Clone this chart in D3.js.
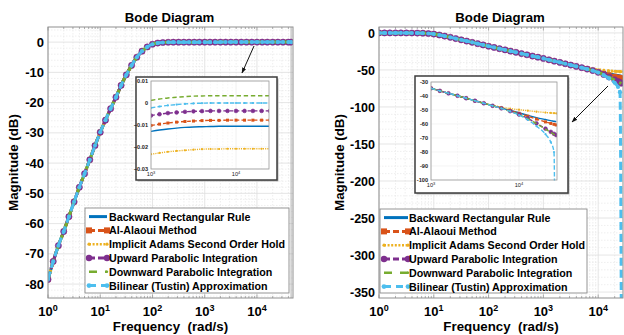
<!DOCTYPE html>
<html>
<head>
<meta charset="utf-8">
<script src="https://cdn.jsdelivr.net/npm/d3@7"></script>
<style>
  body { margin: 0; background: #fff; }
  svg { display: block; }
  text { font-family: "Liberation Sans", Arial, sans-serif; fill: #000; }
</style>
</head>
<body>
<svg id="chart" width="624" height="335"></svg>
<script>
// ---------- data ----------
const seriesNames = [
  "Backward Rectangular Rule",
  "Al-Alaoui Method",
  "Implicit Adams Second Order Hold",
  "Upward Parabolic Integration",
  "Downward Parabolic Integration",
  "Bilinear (Tustin) Approximation"
];

// frequency grid (rad/s), shared low band
const freqLow = [1, 1.26, 1.58, 2, 2.51, 3.16, 3.98, 5.01, 6.31, 7.94, 10, 12.6, 15.8, 20, 25.1, 31.6, 39.8, 50.1, 63.1, 79.4, 100, 126, 158, 200, 251, 316, 398, 501, 631, 794];

// left figure: magnitude (dB) common to all methods below 1 kHz
const magLowLeft = [-78.5, -72.5, -67.3, -62.6, -57.7, -52.8, -48.0, -43.5, -38.9, -34.2, -29.8, -25.8, -22.0, -18.2, -14.3, -10.8, -7.7, -5.0, -3.0, -1.6, -0.7, -0.3, -0.12, -0.05, -0.03, -0.02, -0.016, -0.014, -0.013, -0.012];

// left figure: high band, one list per method
const freqHighLeft = [1000, 1260, 1580, 2000, 2510, 3160, 3980, 5010, 6310, 7940, 10000, 12600, 15800, 20000, 25100, 31600, 39800, 45000];
const leftBackward = [-0.0129, -0.0123, -0.0118, -0.0114, -0.0111, -0.0109, -0.0108, -0.0107, -0.0106, -0.0106, -0.0106, -0.0106, -0.0106, -0.0106, -0.0106, -0.0106, -0.0106, -0.0106];
const leftAlAlaoui = [-0.0102, -0.0096, -0.0091, -0.0087, -0.0084, -0.0082, -0.0080, -0.0079, -0.0079, -0.0078, -0.0078, -0.0078, -0.0078, -0.0078, -0.0078, -0.0078, -0.0078, -0.0078];
const leftAdams = [-0.0233, -0.0227, -0.0222, -0.0218, -0.0215, -0.0212, -0.0210, -0.0209, -0.0209, -0.0208, -0.0208, -0.0208, -0.0208, -0.0208, -0.0208, -0.0208, -0.0208, -0.0208];
const leftUpward = [-0.0057, -0.0051, -0.0046, -0.0043, -0.0040, -0.0038, -0.0037, -0.0036, -0.0036, -0.0036, -0.0036, -0.0036, -0.0036, -0.0036, -0.0036, -0.0036, -0.0036, -0.0036];
const leftDownward = [0.0012, 0.0018, 0.0023, 0.0026, 0.0029, 0.0031, 0.0032, 0.0033, 0.0033, 0.0033, 0.0033, 0.0033, 0.0033, 0.0033, 0.0033, 0.0033, 0.0033, 0.0033];
const leftTustin = [-0.0022, -0.0016, -0.0011, -0.0007, -0.0004, -0.0002, -0.0001, 0, 0, 0, 0, 0, 0, 0, 0, 0, 0, 0];

// right figure: magnitude (dB) common to all methods below 1 kHz
const magLowRight = [0, 0, 0, 0, 0, -0.05, -0.1, -0.2, -0.4, -0.8, -1.5, -2.8, -4.3, -5.9, -7.6, -9.3, -11.0, -12.7, -14.5, -16.2, -18.0, -19.6, -21.3, -22.9, -24.6, -26.2, -27.9, -29.5, -31.2, -32.8];

// right figure: high band, one list per method
const freqHighRight = [1000, 1260, 1580, 2000, 2510, 3160, 3980, 5010, 6310, 7940, 10000, 12600, 15800, 20000, 23000, 25000, 26500];
const rightBackward = [-34.5, -36.3, -38.1, -39.8, -41.6, -43.4, -45.2, -46.9, -48.6, -50.3, -52.0, -53.8, -55.4, -56.8, -57.6, -58.0, -58.3];
const rightAlAlaoui = [-34.5, -36.3, -38.1, -39.8, -41.6, -43.4, -45.2, -46.9, -48.6, -50.4, -52.3, -54.4, -56.5, -58.5, -59.6, -60.2, -60.7];
const rightAdams = [-34.5, -36.3, -38.1, -39.8, -41.6, -43.4, -45.1, -46.6, -47.9, -49.0, -49.8, -50.5, -51.2, -51.8, -52.1, -52.3, -52.4];
const rightUpward = [-34.5, -36.3, -38.1, -39.8, -41.6, -43.4, -45.2, -47.0, -48.8, -50.8, -53.2, -56.0, -59.5, -63.3, -65.6, -67.0, -67.9];
const rightDownward = [-34.5, -36.3, -38.1, -39.8, -41.6, -43.4, -45.2, -47.0, -48.8, -50.9, -53.3, -56.2, -59.8, -63.7, -66.0, -67.4, -68.3];
const rightTustin = [-34.5, -36.3, -38.1, -39.8, -41.6, -43.4, -45.2, -47.0, -48.9, -51.0, -53.6, -57.0, -61.5, -67.3, -73.0, -80.0, -400];

// axis ticks
const xTickExps = [0, 1, 2, 3, 4];
const leftYTicks = [0, -10, -20, -30, -40, -50, -60, -70, -80];
const rightYTicks = [0, -50, -100, -150, -200, -250, -300, -350];
const leftInsetYTicks = [0.01, 0, -0.01, -0.02, -0.03];
const rightInsetYTicks = [-30, -40, -50, -60, -70, -80, -90, -100];
const insetXTickExps = [3, 4];

// ---------- styles ----------
const styles = [
  { color: "#0072BD", dash: null,  marker: null },
  { color: "#D95319", dash: "7,4", marker: "square" },
  { color: "#EDB120", dash: "2,2", marker: "dot" },
  { color: "#7E2F8E", dash: "7,4", marker: "circle" },
  { color: "#77AC30", dash: "8,5", marker: null },
  { color: "#4DBEEE", dash: "8,4", marker: "dot" }
];

const svg = d3.select("#chart");
const defs = svg.append("defs");
defs.append("marker").attr("id", "arrowHead")
  .attr("viewBox", "0 0 10 10").attr("refX", 9).attr("refY", 5)
  .attr("markerWidth", 6).attr("markerHeight", 6).attr("orient", "auto")
  .append("path").attr("d", "M0,1.5 L10,5 L0,8.5 Z").attr("fill", "#111");

let clipCount = 0;
function addClip(x0, y0, x1, y1) {
  const id = "clip" + (clipCount++);
  defs.append("clipPath").attr("id", id)
    .append("rect").attr("x", x0).attr("y", y0).attr("width", x1 - x0).attr("height", y1 - y0);
  return "url(#" + id + ")";
}

function buildPoints(lowMag, highFreq, highMag) {
  return freqLow.map((f, i) => ({ f, m: lowMag[i] }))
    .concat(highFreq.map((f, i) => ({ f, m: highMag[i] })));
}

function powLabel(g, x, y, exp, size, supSize, rise) {
  const t = g.append("text").attr("x", x).attr("y", y)
    .attr("text-anchor", "middle").style("font-weight", "bold").style("font-size", size + "px");
  t.append("tspan").text("10");
  t.append("tspan").attr("dy", -rise).style("font-size", supSize + "px").text(exp);
}

function logGrid(g, x, y, x0, x1, y0, y1, fmin, fmax, majorColor, minorColor) {
  for (let k = Math.floor(Math.log10(fmin)); k <= Math.ceil(Math.log10(fmax)); k++) {
    for (let m = 1; m <= 9; m++) {
      const f = m * Math.pow(10, k);
      if (f < fmin || f > fmax) continue;
      const px = x(f);
      g.append("line").attr("x1", px).attr("x2", px).attr("y1", y0).attr("y2", y1)
        .attr("stroke", m === 1 ? majorColor : minorColor)
        .attr("stroke-width", m === 1 ? 0.8 : 0.7)
        .attr("stroke-dasharray", m === 1 ? null : "1.5,1.5");
    }
  }
}

function drawSeries(g, x, y, pts, st, size) {
  const line = d3.line().x(d => x(d.f)).y(d => y(d.m)).curve(d3.curveMonotoneX);
  const main = size === "main";
  g.append("path").datum(pts).attr("d", line).attr("fill", "none")
    .attr("stroke", st.color)
    .attr("stroke-width", main ? 3 : 1.4)
    .attr("stroke-dasharray", st.dash ? (main ? st.dash : st.dash.split(",").map(v => v * 0.55).join(",")) : null);
  if (!st.marker) return;
  pts.forEach(d => {
    const px = x(d.f), py = y(d.m);
    if (st.marker === "circle") {
      g.append("circle").attr("cx", px).attr("cy", py).attr("r", main ? 3.1 : 1.9)
        .attr("fill", st.color).attr("stroke", st.color).attr("stroke-width", 0.6);
    } else if (st.marker === "square") {
      const s = main ? 5 : 3;
      g.append("rect").attr("x", px - s / 2).attr("y", py - s / 2).attr("width", s).attr("height", s)
        .attr("fill", st.color);
    } else {
      g.append("circle").attr("cx", px).attr("cy", py)
        .attr("r", main ? (st.color === "#EDB120" ? 1.4 : 2.1) : 1.1)
        .attr("fill", st.color);
    }
  });
}

function drawLegend(g, lx, ly, lw, lh, sx0, sx1, tx) {
  g.append("rect").attr("x", lx).attr("y", ly).attr("width", lw).attr("height", lh)
    .attr("fill", "#fff").attr("stroke", "#8a8a8a").attr("stroke-width", 0.9);
  seriesNames.forEach((name, i) => {
    const st = styles[i];
    const cy = ly + 8.6 + i * 13.8;
    const a = lx + sx0, b = lx + sx1;
    let dash = null, w = 3;
    if (i === 1) dash = "6,3";
    if (i === 2) { dash = "2,1.6"; w = 2.6; }
    if (i === 3) dash = "6,3";
    if (i === 4) { dash = "8,8"; w = 2.6; }
    if (i === 5) dash = "7,5";
    g.append("line").attr("x1", a).attr("x2", b).attr("y1", cy).attr("y2", cy)
      .attr("stroke", st.color).attr("stroke-width", w).attr("stroke-dasharray", dash);
    if (st.marker === "square") {
      [a, b].forEach(px => g.append("rect").attr("x", px - 3).attr("y", cy - 3).attr("width", 6).attr("height", 6).attr("fill", st.color));
    } else if (st.marker === "circle") {
      [a, b].forEach(px => g.append("circle").attr("cx", px).attr("cy", cy).attr("r", 3.2).attr("fill", st.color));
    } else if (st.marker === "dot") {
      const r = i === 2 ? 1.6 : 2.4;
      [a, b].forEach(px => g.append("circle").attr("cx", px).attr("cy", cy).attr("r", r).attr("fill", st.color));
    } else if (i === 4) {
      g.append("circle").attr("cx", b).attr("cy", cy).attr("r", 1.2).attr("fill", st.color);
    }
    g.append("text").attr("x", lx + tx).attr("y", cy + 3.9)
      .style("font-weight", "bold").style("font-size", "10.7px").text(name);
  });
}

function drawInset(g, cfg, seriesPts) {
  const o = cfg.outer;
  g.append("rect").attr("x", o[0] + 1.5).attr("y", o[1] + 1.5).attr("width", o[2]).attr("height", o[3])
    .attr("fill", "#b5b5b5");
  g.append("rect").attr("x", o[0]).attr("y", o[1]).attr("width", o[2]).attr("height", o[3])
    .attr("fill", "#fff").attr("stroke", "#3c3c3c").attr("stroke-width", 1.5);
  const [x0, y0, x1, y1] = cfg.axes;
  const x = d3.scaleLog().domain(cfg.xDomain).range([x0, x1]);
  const y = d3.scaleLinear().domain(cfg.yDomain).range([y1, y0]);
  logGrid(g, x, y, x0, x1, y0, y1, cfg.xDomain[0], cfg.xDomain[1], "#ececec", "#f2f2f2");
  cfg.yTicks.forEach(v => {
    g.append("line").attr("x1", x0).attr("x2", x1).attr("y1", y(v)).attr("y2", y(v))
      .attr("stroke", "#ececec").attr("stroke-width", 0.6);
  });
  const clip = addClip(x0, y0 - 0.5, x1, y1 + 0.5);
  const sg = g.append("g").attr("clip-path", clip);
  seriesPts.forEach((pts, i) => drawSeries(sg, x, y, pts.filter(d => d.f >= 900), styles[i], "inset"));
  g.append("rect").attr("x", x0).attr("y", y0).attr("width", x1 - x0).attr("height", y1 - y0)
    .attr("fill", "none").attr("stroke", "#9a9a9a").attr("stroke-width", 0.8);
  cfg.yTicks.forEach(v => {
    g.append("text").attr("x", x0 - 3).attr("y", y(v) + 2)
      .attr("text-anchor", "end").style("font-size", "5.6px").style("font-weight", "bold")
      .style("fill", "#222").text(cfg.yFmt(v));
  });
  insetXTickExps.forEach(e => {
    const t = g.append("text").attr("x", x(Math.pow(10, e))).attr("y", y1 + 7)
      .attr("text-anchor", "middle").style("font-size", "5.6px").style("fill", "#222");
    t.append("tspan").text("10");
    t.append("tspan").attr("dy", -2.5).style("font-size", "4px").text(e);
  });
}

function drawPanel(p) {
  const g = svg.append("g");
  const x = d3.scaleLog().domain(p.xDomain).range([p.left, p.right]);
  const y = d3.scaleLinear().domain(p.yDomain).range([p.bottom, p.top]);

  // grid
  logGrid(g, x, y, p.left, p.right, p.top, p.bottom, p.xDomain[0], p.xDomain[1], "#dedede", "#e6e6e6");
  for (let v = Math.ceil(p.yDomain[0] / p.yMinor) * p.yMinor; v <= p.yDomain[1]; v += p.yMinor) {
    const major = p.yTicks.includes(v);
    g.append("line").attr("x1", p.left).attr("x2", p.right).attr("y1", y(v)).attr("y2", y(v))
      .attr("stroke", major ? "#dedede" : "#e8e8e8").attr("stroke-width", major ? 0.8 : 0.7)
      .attr("stroke-dasharray", major ? null : "1.5,1.5");
  }
  if (p.nyquist) {
    g.append("line").attr("x1", x(p.nyquist)).attr("x2", x(p.nyquist)).attr("y1", p.top).attr("y2", p.bottom)
      .attr("stroke", "#a8a8a8").attr("stroke-width", 0.9);
  }

  // series
  const clip = addClip(p.left, p.top, p.right, p.bottom);
  const sg = g.append("g").attr("clip-path", clip);
  p.series.forEach((pts, i) => drawSeries(sg, x, y, pts, styles[i], "main"));

  // box and inner ticks
  g.append("rect").attr("x", p.left).attr("y", p.top).attr("width", p.right - p.left).attr("height", p.bottom - p.top)
    .attr("fill", "none").attr("stroke", "#8f8f8f").attr("stroke-width", 1);
  for (let k = 0; k <= 5; k++) {
    for (let m = 1; m <= 9; m++) {
      const f = m * Math.pow(10, k);
      if (f > p.xDomain[1]) continue;
      const len = m === 1 ? 3.5 : 2;
      const px = x(f);
      g.append("line").attr("x1", px).attr("x2", px).attr("y1", p.bottom).attr("y2", p.bottom - len).attr("stroke", "#8f8f8f").attr("stroke-width", 0.7);
      g.append("line").attr("x1", px).attr("x2", px).attr("y1", p.top).attr("y2", p.top + len).attr("stroke", "#8f8f8f").attr("stroke-width", 0.7);
    }
  }

  // tick labels
  xTickExps.forEach(e => powLabel(g, x(Math.pow(10, e)), p.bottom + 18, e, 13, 9, 5.5));
  p.yTicks.forEach(v => {
    g.append("text").attr("x", p.left - 4).attr("y", y(v) + 4.6)
      .attr("text-anchor", "end").style("font-weight", "bold").style("font-size", p.yFont + "px").text(v);
  });

  const cx = (p.left + p.right) / 2;
  g.append("text").attr("x", cx - 1).attr("y", 22).attr("text-anchor", "middle")
    .style("font-weight", "bold").style("font-size", "13.2px").text("Bode Diagram");
  g.append("text").attr("x", cx).attr("y", 331).attr("text-anchor", "middle")
    .style("font-weight", "bold").style("font-size", "13.3px").attr("xml:space", "preserve")
    .text("Frequency  (rad/s)");
  g.append("text").attr("transform", `translate(${p.yLabelX},${(p.top + p.bottom) / 2}) rotate(-90)`)
    .attr("text-anchor", "middle").style("font-weight", "bold").style("font-size", "13.3px")
    .text("Magnitude (dB)");

  drawInset(g, p.inset, p.series);
  drawLegend(g, ...p.legend);

  g.append("line").attr("x1", p.arrow[0]).attr("y1", p.arrow[1]).attr("x2", p.arrow[2]).attr("y2", p.arrow[3])
    .attr("stroke", "#111").attr("stroke-width", 1).attr("marker-end", "url(#arrowHead)");
}

// ---------- left figure ----------
const leftHigh = [leftBackward, leftAlAlaoui, leftAdams, leftUpward, leftDownward, leftTustin];
drawPanel({
  left: 48, right: 293, top: 27, bottom: 298,
  xDomain: [1, Math.pow(10, 4.69)],
  yDomain: [-84.6, 5], yTicks: leftYTicks, yMinor: 2, yFont: 13,
  yLabelX: 18,
  nyquist: 45000,
  series: leftHigh.map(v => buildPoints(magLowLeft, freqHighLeft, v)),
  inset: {
    outer: [136, 77, 141, 103],
    axes: [151, 81, 269, 169],
    xDomain: [1000, Math.pow(10, 4.388)],
    yDomain: [-0.03, 0.01],
    yTicks: leftInsetYTicks,
    yFmt: v => v === 0 ? "0" : d3.format(".2f")(v)
  },
  legend: [85, 208, 204, 85, 4, 22, 24],
  arrow: [254, 46, 242, 73]
});

// ---------- right figure ----------
const rightHigh = [rightBackward, rightAlAlaoui, rightAdams, rightUpward, rightDownward, rightTustin];
drawPanel({
  left: 379, right: 623, top: 27, bottom: 298,
  xDomain: [1, Math.pow(10, 4.453)],
  yDomain: [-358, 8], yTicks: rightYTicks, yMinor: 10, yFont: 12.5,
  yLabelX: 344,
  nyquist: null,
  series: rightHigh.map(v => buildPoints(magLowRight, freqHighRight, v)),
  inset: {
    outer: [415, 76, 153, 117],
    axes: [431, 82, 557, 180],
    xDomain: [1000, Math.pow(10, 4.432)],
    yDomain: [-100, -30],
    yTicks: rightInsetYTicks,
    yFmt: v => String(v)
  },
  legend: [380, 209, 207, 84, 4, 28, 29],
  arrow: [608, 86, 572, 122]
});
</script>
</body>
</html>
